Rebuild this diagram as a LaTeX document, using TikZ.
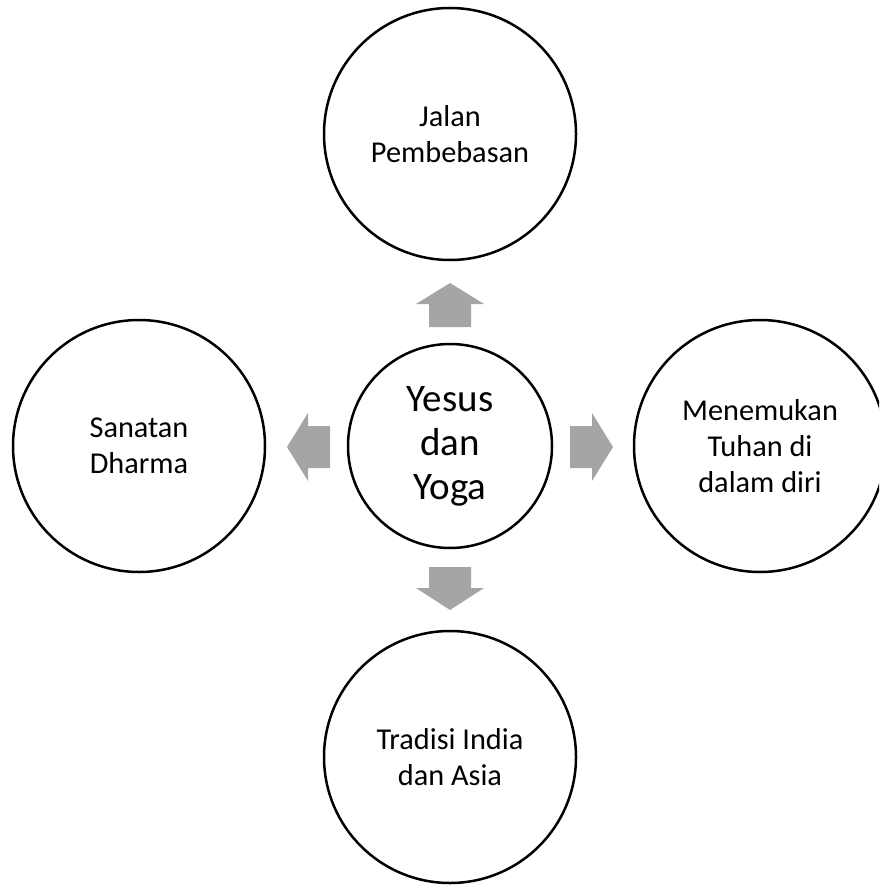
\documentclass[tikz,border=0pt]{standalone}
\usepackage{fontspec}
\setmainfont{Carlito}
\definecolor{arrowgray}{HTML}{A5A5A5}
\begin{document}
\begin{tikzpicture}[x=1pt,y=-1pt,
  outer/.style={circle,draw=black,line width=2.5pt,minimum size=252pt,inner sep=0pt,align=center,
    font=\fontsize{30.3}{36}\selectfont},
  inner/.style={circle,draw=black,line width=2.5pt,minimum size=204pt,inner sep=0pt,align=center,
    font=\fontsize{39}{44}\selectfont},
  blockarrow/.style={fill=arrowgray,draw=none}]
\useasboundingbox (0,0) rectangle (879,885);
\begin{scope}
\clip (0,0) rectangle (879,885);
\node[inner] (c) at (450,446) {Yesus\\dan\\Yoga};
\node[outer] (t) at (450,134) {Jalan\\Pembebasan};
\node[outer] (l) at (139,446) {Sanatan\\Dharma};
\node[outer] (r) at (760,446) {Menemukan\\Tuhan di\\dalam diri};
\node[outer] (b) at (450,757) {Tradisi India\\dan Asia};
% up arrow
\fill[blockarrow] (429,327) -- (429,304) -- (416,304) -- (450,283) -- (484,304) -- (471,304) -- (471,327) -- cycle;
% down arrow
\fill[blockarrow] (429,567) -- (429,588) -- (416,588) -- (450,610) -- (484,588) -- (471,588) -- (471,567) -- cycle;
% left arrow
\fill[blockarrow] (330,426) -- (308,426) -- (308,413) -- (287,447) -- (308,481) -- (308,468) -- (330,468) -- cycle;
% right arrow
\fill[blockarrow] (570,426) -- (592,426) -- (592,413) -- (613,447) -- (592,481) -- (592,468) -- (570,468) -- cycle;
\end{scope}
\end{tikzpicture}
\end{document}
